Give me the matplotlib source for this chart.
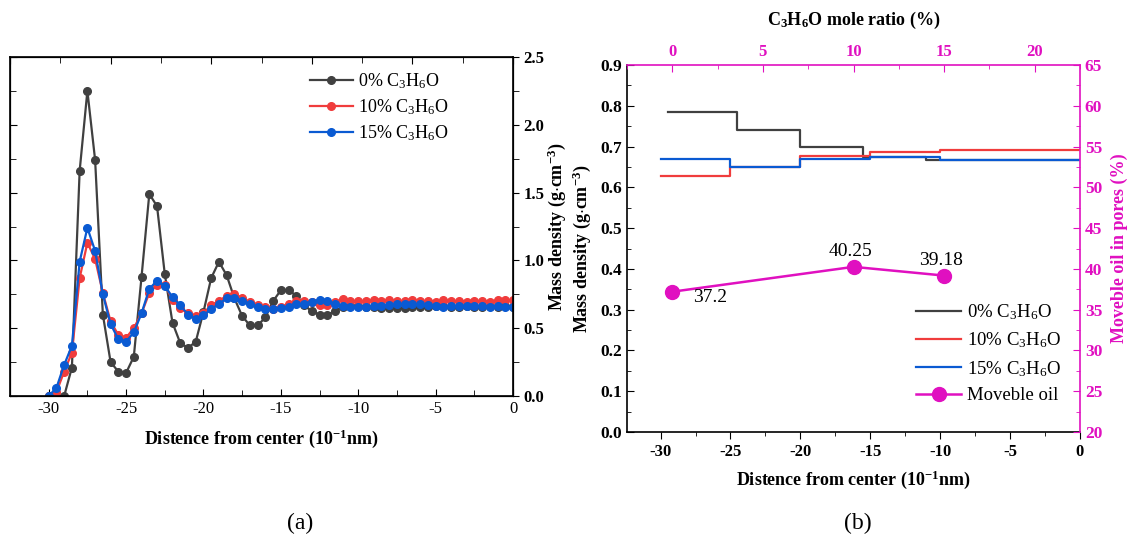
import numpy as np
import matplotlib
matplotlib.use("Agg")
import matplotlib.pyplot as plt
from matplotlib.ticker import MultipleLocator, NullFormatter

plt.rcParams['font.family'] = ['Liberation Serif', 'DejaVu Serif']
plt.rcParams['mathtext.fontset'] = 'custom'
plt.rcParams['mathtext.rm'] = 'Liberation Serif'
plt.rcParams['mathtext.it'] = 'Liberation Serif:italic'
plt.rcParams['mathtext.bf'] = 'Liberation Serif:bold'

# ---- (a) density profiles, one point every 0.5 from -30 to 0
dist = np.arange(-30, 0.01, 0.5)
rho_0 = [0.0, 0.0, 0.0, 0.21, 1.66, 2.25, 1.74, 0.60, 0.25, 0.18,
         0.17, 0.29, 0.88, 1.49, 1.40, 0.90, 0.54, 0.39, 0.355, 0.40,
         0.62, 0.87, 0.99, 0.89, 0.72, 0.59, 0.52, 0.52, 0.58, 0.70,
         0.78, 0.78, 0.74, 0.67, 0.625, 0.60, 0.60, 0.625, 0.66, 0.665,
         0.665, 0.66, 0.655, 0.65, 0.65, 0.65, 0.65, 0.655, 0.66, 0.66,
         0.665, 0.665, 0.66, 0.66, 0.665, 0.66, 0.66, 0.665, 0.66, 0.665,
         0.66]
rho_10 = [0.0, 0.03, 0.18, 0.32, 0.87, 1.13, 1.01, 0.76, 0.55, 0.45,
          0.43, 0.50, 0.61, 0.76, 0.82, 0.82, 0.71, 0.65, 0.61, 0.59,
          0.61, 0.67, 0.70, 0.74, 0.755, 0.72, 0.69, 0.67, 0.655, 0.645,
          0.655, 0.68, 0.70, 0.70, 0.695, 0.67, 0.67, 0.69, 0.715, 0.70,
          0.70, 0.70, 0.705, 0.70, 0.705, 0.70, 0.70, 0.705, 0.70, 0.70,
          0.695, 0.705, 0.70, 0.70, 0.695, 0.70, 0.70, 0.695, 0.705, 0.71,
          0.705]
rho_15 = [0.0, 0.06, 0.23, 0.37, 0.99, 1.24, 1.07, 0.75, 0.53, 0.42,
          0.40, 0.47, 0.61, 0.79, 0.85, 0.81, 0.73, 0.67, 0.60, 0.57,
          0.595, 0.64, 0.68, 0.72, 0.72, 0.70, 0.675, 0.66, 0.64, 0.64,
          0.65, 0.66, 0.675, 0.68, 0.695, 0.71, 0.70, 0.675, 0.665, 0.66,
          0.66, 0.66, 0.665, 0.665, 0.67, 0.675, 0.675, 0.68, 0.675, 0.67,
          0.665, 0.66, 0.665, 0.665, 0.665, 0.665, 0.665, 0.66, 0.665, 0.66,
          0.66]

# ---- (b) averaged density in layers (step edges) and movable oil
step_x_0 = [-29.5, -24.5, -20, -15.5, -11, 0]
step_y_0 = [0.784, 0.741, 0.698, 0.675, 0.667, 0.667]
step_x_10 = [-30, -25, -20, -15, -10, 0]
step_y_10 = [0.629, 0.651, 0.678, 0.687, 0.692, 0.692]
step_x_15 = [-30, -25, -20, -15, -10, 0]
step_y_15 = [0.670, 0.651, 0.670, 0.675, 0.666, 0.666]

mole_ratio = [0, 10, 15]
moveble_oil = [37.2, 40.25, 39.18]
oil_labels = ['37.2', '40.25', '39.18']

c_gray = '#404040'
c_red = '#F03C3C'
c_blue = '#0A5AD2'
c_mag = '#E010C0'

C3H6O = r'C$_3$H$_6$O'
C3H6O_b = r'C$_\mathbf{3}$H$_\mathbf{6}$O'

fig = plt.figure(figsize=(11.31, 5.38), dpi=100)
W, H = 1131, 538

# ================= panel (a)
axA = fig.add_axes([10 / W, 1 - 396 / H, 503 / W, 339 / H])
for y, c, lab in [(rho_0, c_gray, '0% ' + C3H6O),
                  (rho_10, c_red, '10% ' + C3H6O),
                  (rho_15, c_blue, '15% ' + C3H6O)]:
    axA.plot(dist, y, '-o', color=c, lw=1.6, ms=5.5, mec=c, label=lab)
axA.set_xlim(-32.5, 0)
axA.set_ylim(0, 2.5)
axA.xaxis.set_major_locator(MultipleLocator(5))
axA.xaxis.set_minor_locator(MultipleLocator(2.5))
axA.yaxis.set_major_locator(MultipleLocator(0.5))
axA.yaxis.set_minor_locator(MultipleLocator(0.25))
axA.tick_params(axis='both', which='both', direction='in', labelsize=12)
axA.tick_params(axis='both', which='major', length=5)
axA.tick_params(axis='both', which='minor', length=4)
axA.tick_params(axis='y', labelleft=False)
axA.set_xticklabels([f'{int(v)}' for v in axA.get_xticks()])
for s in axA.spines.values():
    s.set_linewidth(1.2)
axA.set_xlabel(r'Distence from center (10$^{\mathbf{-1}}$nm)', fontsize=13,
               fontweight='bold', labelpad=8)
axA.legend(loc='upper right', bbox_to_anchor=(0.905, 1.005), frameon=False,
           fontsize=13, handlelength=2.4, handletextpad=0.3, labelspacing=0.35)

# right side labels of (a)
axAr = axA.twinx()
axAr.set_ylim(0, 2.5)
axAr.yaxis.set_major_locator(MultipleLocator(0.5))
axAr.yaxis.set_minor_locator(MultipleLocator(0.25))
axAr.tick_params(axis='y', which='both', direction='out', length=4)
axAr.set_yticklabels([f'{v:.1f}' for v in axAr.get_yticks()], fontweight='bold', fontsize=12)
axAr.set_ylabel(r'Mass density (g$\cdot$cm$^{\mathbf{-3}}$)', fontsize=13,
                fontweight='bold', labelpad=1)

# top ticks of (a)
axAt = axA.twiny()
axAt.set_xlim(0, 10)
axAt.xaxis.set_major_locator(MultipleLocator(2))
axAt.xaxis.set_minor_locator(MultipleLocator(1))
axAt.xaxis.set_major_formatter(NullFormatter())
axAt.tick_params(axis='x', which='both', direction='in', length=4)
axAt.tick_params(axis='x', which='major', length=5)

# ================= panel (b)
rectB = [627 / W, 1 - 432 / H, 453 / W, 367 / H]
axB = fig.add_axes(rectB)
axB.step(step_x_0, step_y_0, where='post', color=c_gray, lw=1.6, label='0% ' + C3H6O)
axB.step(step_x_10, step_y_10, where='post', color=c_red, lw=1.6, label='10% ' + C3H6O)
axB.step(step_x_15, step_y_15, where='post', color=c_blue, lw=1.6, label='15% ' + C3H6O)
axB.set_xlim(-32.4, 0)
axB.set_ylim(0, 0.9)
axB.xaxis.set_major_locator(MultipleLocator(5))
axB.xaxis.set_minor_locator(MultipleLocator(2.5))
axB.yaxis.set_major_locator(MultipleLocator(0.1))
axB.yaxis.set_minor_locator(MultipleLocator(0.05))
axB.tick_params(axis='x', which='both', direction='out')
axB.tick_params(axis='y', which='both', direction='in')
axB.tick_params(which='major', length=5)
axB.tick_params(which='minor', length=3)
axB.set_xticklabels([f'{int(v)}' for v in axB.get_xticks()], fontweight='bold', fontsize=12)
axB.set_yticklabels([f'{v:.1f}' for v in axB.get_yticks()], fontweight='bold', fontsize=12.5)
axB.spines['top'].set_visible(False)
axB.spines['right'].set_visible(False)
axB.spines['left'].set_linewidth(1.2)
axB.spines['bottom'].set_linewidth(1.2)
axB.set_xlabel(r'Distence from center (10$^{\mathbf{-1}}$nm)', fontsize=13,
               fontweight='bold', labelpad=6)
axB.set_ylabel(r'Mass density (g$\cdot$cm$^{\mathbf{-3}}$)', fontsize=13,
               fontweight='bold', labelpad=5)

# movable oil on top / right axes
axO = fig.add_axes(rectB)
axO.patch.set_visible(False)
axO.plot(mole_ratio, moveble_oil, '-o', color=c_mag, lw=1.8, ms=10, label='Moveble oil')
axO.set_xlim(-2.5, 22.5)
axO.set_ylim(20, 65)
axO.xaxis.tick_top()
axO.xaxis.set_label_position('top')
axO.yaxis.tick_right()
axO.yaxis.set_label_position('right')
axO.xaxis.set_major_locator(MultipleLocator(5))
axO.xaxis.set_minor_locator(MultipleLocator(2.5))
axO.yaxis.set_major_locator(MultipleLocator(5))
axO.yaxis.set_minor_locator(MultipleLocator(2.5))
axO.tick_params(which='both', direction='in', color=c_mag, labelcolor=c_mag)
axO.tick_params(which='major', length=5)
axO.tick_params(which='minor', length=3)
axO.set_xticklabels([f'{int(v)}' for v in axO.get_xticks()], fontweight='bold', fontsize=12)
axO.set_yticklabels([f'{int(v)}' for v in axO.get_yticks()], fontweight='bold', fontsize=12.5)
axO.spines['left'].set_visible(False)
axO.spines['bottom'].set_visible(False)
axO.spines['top'].set_color(c_mag)
axO.spines['right'].set_color(c_mag)
axO.spines['top'].set_linewidth(1.2)
axO.spines['right'].set_linewidth(1.2)
axO.set_xlabel(C3H6O_b + ' mole ratio (%)', fontsize=13, fontweight='bold', labelpad=14)
axO.set_ylabel('Moveble oil in pores (%)', fontsize=13, fontweight='bold', color=c_mag, labelpad=6)

offsets = [(15, -4), (-2, 11), (-2, 11)]
for xv, yv, t, off in zip(mole_ratio, moveble_oil, oil_labels, offsets):
    ha = 'left' if off[0] > 5 else 'center'
    axO.annotate(t, (xv, yv), xytext=off, textcoords='offset points',
                 ha=ha, va='center', fontsize=14)

h1, l1 = axB.get_legend_handles_labels()
h2, l2 = axO.get_legend_handles_labels()
axO.legend(h1 + h2, l1 + l2, loc='lower right', bbox_to_anchor=(0.995, 0.03),
           frameon=False, fontsize=13.5, handlelength=2.4, handletextpad=0.3,
           labelspacing=0.45)

fig.text(300 / W, 1 - 523 / H, '(a)', ha='center', va='center', fontsize=17)
fig.text(858 / W, 1 - 523 / H, '(b)', ha='center', va='center', fontsize=17)

fig.savefig('out.png', dpi=100)
